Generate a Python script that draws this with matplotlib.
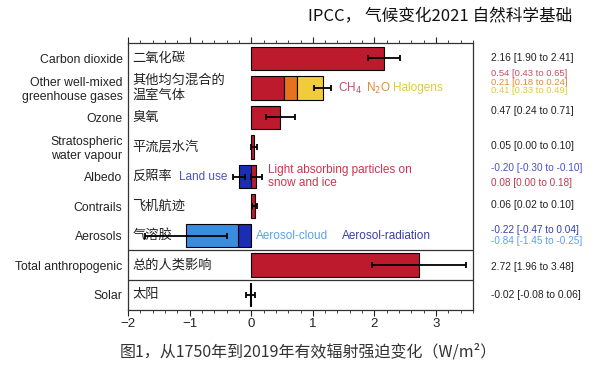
"""
Effective radiative forcing 1750-2019 (IPCC AR6 style bar chart)
"""

import numpy as np
import matplotlib.pyplot as plt
from matplotlib.ticker import MultipleLocator

# -----------------------
# Data
# -----------------------
labels_en = ["Carbon dioxide", "Other well-mixed\ngreenhouse gases", "Ozone",
             "Stratospheric\nwater vapour", "Albedo", "Contrails", "Aerosols",
             "Total anthropogenic", "Solar"]
labels_zh = ["二氧化碳", "其他均匀混合的\n温室气体", "臭氧", "平流层水汽", "反照率",
             "飞机航迹", "气溶胶", "总的人类影响", "太阳"]

# single-bar rows: row index, best estimate, low, high
single_rows = [0, 2, 3, 5, 7, 8]
single_val = [2.16, 0.47, 0.05, 0.06, 2.72, -0.02]
single_lo = [1.90, 0.24, 0.00, 0.02, 1.96, -0.08]
single_hi = [2.41, 0.71, 0.10, 0.10, 3.48, 0.06]

# other well-mixed GHGs (stacked)
ghg_names = ["CH$_4$", "N$_2$O", "Halogens"]
ghg_val = [0.54, 0.21, 0.41]
ghg_lo = [0.43, 0.18, 0.33]
ghg_hi = [0.65, 0.24, 0.49]
ghg_total_range = [1.02, 1.30]

# albedo
landuse = [-0.20, -0.30, -0.10]
lap = [0.08, 0.00, 0.18]

# aerosols (stacked to the left)
aer_rad = [-0.22, -0.47, 0.04]
aer_cloud = [-0.84, -1.45, -0.25]
aer_total_range = [-1.72, -0.39]

xticks = [-2, -1, 0, 1, 2, 3]

# -----------------------
# Style
# -----------------------
RED = "#BD1A2E"
ORANGE = "#E8711E"
YELLOW = "#F1CB3B"
DBLUE = "#1A2DB5"
LBLUE = "#3A8CDF"
T_CH4 = "#CC4A68"
T_N2O = "#E38A3A"
T_HAL = "#DCCB3C"
T_LAP = "#C8364F"
T_LAND = "#4B50C8"
T_ACL = "#5BA2E6"
T_ARAD = "#3A3FA8"

plt.rcParams['font.family'] = ['Liberation Sans', 'DejaVu Sans']
ZH = ['Noto Sans CJK SC', 'DejaVu Sans']

H = 0.8
EDGE = dict(edgecolor="black", linewidth=0.8, zorder=3)
ERR = dict(fmt="none", ecolor="black", elinewidth=1.3, capsize=2.5,
           capthick=1.3, zorder=5)


def errbar(ax, y, x, lo, hi):
    ax.errorbar([x], [y], xerr=[[x - lo], [hi - x]], **ERR)


fig = plt.figure(figsize=(6, 3.66), dpi=100)
ax = fig.add_axes([128 / 600, 1 - 310 / 366, 345 / 600, 267 / 366])

# single bars
ax.barh(single_rows, single_val, height=H, color=RED, **EDGE)
for r, v, lo, hi in zip(single_rows, single_val, single_lo, single_hi):
    errbar(ax, r, v, lo, hi)

# stacked GHGs
left = 0.0
for v, c in zip(ghg_val, [RED, ORANGE, YELLOW]):
    ax.barh(1, v, left=left, height=H, color=c, **EDGE)
    left += v
errbar(ax, 1, sum(ghg_val), *ghg_total_range)

# albedo
ax.barh(4, landuse[0], height=H, color=DBLUE, **EDGE)
ax.barh(4, lap[0], height=H, color=RED, **EDGE)
errbar(ax, 4, landuse[0], landuse[1], landuse[2])
errbar(ax, 4, lap[0], lap[1], lap[2])

# aerosols
ax.barh(6, aer_rad[0], height=H, color=DBLUE, **EDGE)
ax.barh(6, aer_cloud[0], left=aer_rad[0], height=H, color=LBLUE, **EDGE)
errbar(ax, 6, aer_rad[0] + aer_cloud[0], *aer_total_range)

# separators around total
for yy in (6.5, 7.5):
    ax.axhline(yy, color="#333333", linewidth=0.9, zorder=2)

# axes
ax.set_xlim(-2, 3.6)
ax.set_ylim(8.525, -0.525)
ax.set_yticks(range(len(labels_en)))
ax.set_yticklabels(labels_en, fontsize=8.8, color="#222222", linespacing=1.2)
ax.tick_params(axis="y", length=0, pad=4)
ax.set_xticks(xticks)
ax.set_xticklabels([str(t) if t >= 0 else "\u2212" + str(-t) for t in xticks])
ax.xaxis.set_minor_locator(MultipleLocator(0.2))
ax.tick_params(axis="x", which="both", direction="out", top=True,
               labelsize=9.5, colors="#222222", pad=2)
ax.tick_params(axis="x", which="major", length=4)
ax.tick_params(axis="x", which="minor", length=2)
for s in ax.spines.values():
    s.set_linewidth(0.9)
    s.set_color("#333333")

# chinese labels inside the panel
for i, zh in enumerate(labels_zh):
    ax.text(-1.93, i, zh, family=ZH, fontsize=9.5, va="center", ha="left",
            color="#222222", zorder=1, linespacing=1.15)

# annotations
ax.text(1.41, 1, ghg_names[0], color=T_CH4, fontsize=8.5, va="center")
ax.text(1.86, 1, ghg_names[1], color=T_N2O, fontsize=8.5, va="center")
ax.text(2.30, 1, ghg_names[2], color=T_HAL, fontsize=8.5, va="center")
ax.text(0.27, 4, "Light absorbing particles on\nsnow and ice", color=T_LAP,
        fontsize=8.5, va="center", ha="left", linespacing=1.1)
ax.text(-0.38, 4, "Land use", color=T_LAND, fontsize=8.5, va="center", ha="right")
ax.text(0.07, 6, "Aerosol-cloud", color=T_ACL, fontsize=8.5, va="center")
ax.text(1.47, 6, "Aerosol-radiation", color=T_ARAD, fontsize=8.5, va="center")

# value labels on the right
def fmt(v, lo, hi):
    return f"{v:.2f} [{lo:.2f} to {hi:.2f}]"

# (y position, text, colour, font size)
value_labels = [
    (0.0, fmt(single_val[0], single_lo[0], single_hi[0]), "#222222", 7.4),
    (0.52, fmt(ghg_val[0], ghg_lo[0], ghg_hi[0]), T_CH4, 6.8),
    (0.81, fmt(ghg_val[1], ghg_lo[1], ghg_hi[1]), T_N2O, 6.8),
    (1.10, fmt(ghg_val[2], ghg_lo[2], ghg_hi[2]), T_HAL, 6.8),
    (1.78, fmt(single_val[1], single_lo[1], single_hi[1]), "#222222", 7.4),
    (2.98, fmt(single_val[2], single_lo[2], single_hi[2]), "#222222", 7.4),
    (3.71, fmt(*landuse), T_LAND, 7.2),
    (4.22, fmt(*lap), T_LAP, 7.2),
    (4.97, fmt(single_val[3], single_lo[3], single_hi[3]), "#222222", 7.4),
    (5.81, fmt(*aer_rad), T_ARAD, 7.2),
    (6.19, fmt(*aer_cloud), T_ACL, 7.2),
    (7.07, fmt(single_val[4], single_lo[4], single_hi[4]), "#222222", 7.4),
    (8.0, fmt(single_val[5], single_lo[5], single_hi[5]), "#222222", 7.4),
]
trans = ax.get_yaxis_transform()
for y, s, c, fs in value_labels:
    ax.text(1.052, y, s, transform=trans, fontsize=fs, color=c,
            va="center", ha="left")

# title & caption
fig.text(572 / 600, 1 - 17 / 366, "IPCC， 气候变化2021 自然科学基础", family=ZH,
         fontsize=12, ha="right", va="center", color="#111111")
fig.text(308 / 600, 1 - 352 / 366, "图1，从1750年到2019年有效辐射强迫变化（W/m²）",
         family=ZH, fontsize=11.5, ha="center", va="center", color="#333333")

fig.savefig("out.png", dpi=100)
